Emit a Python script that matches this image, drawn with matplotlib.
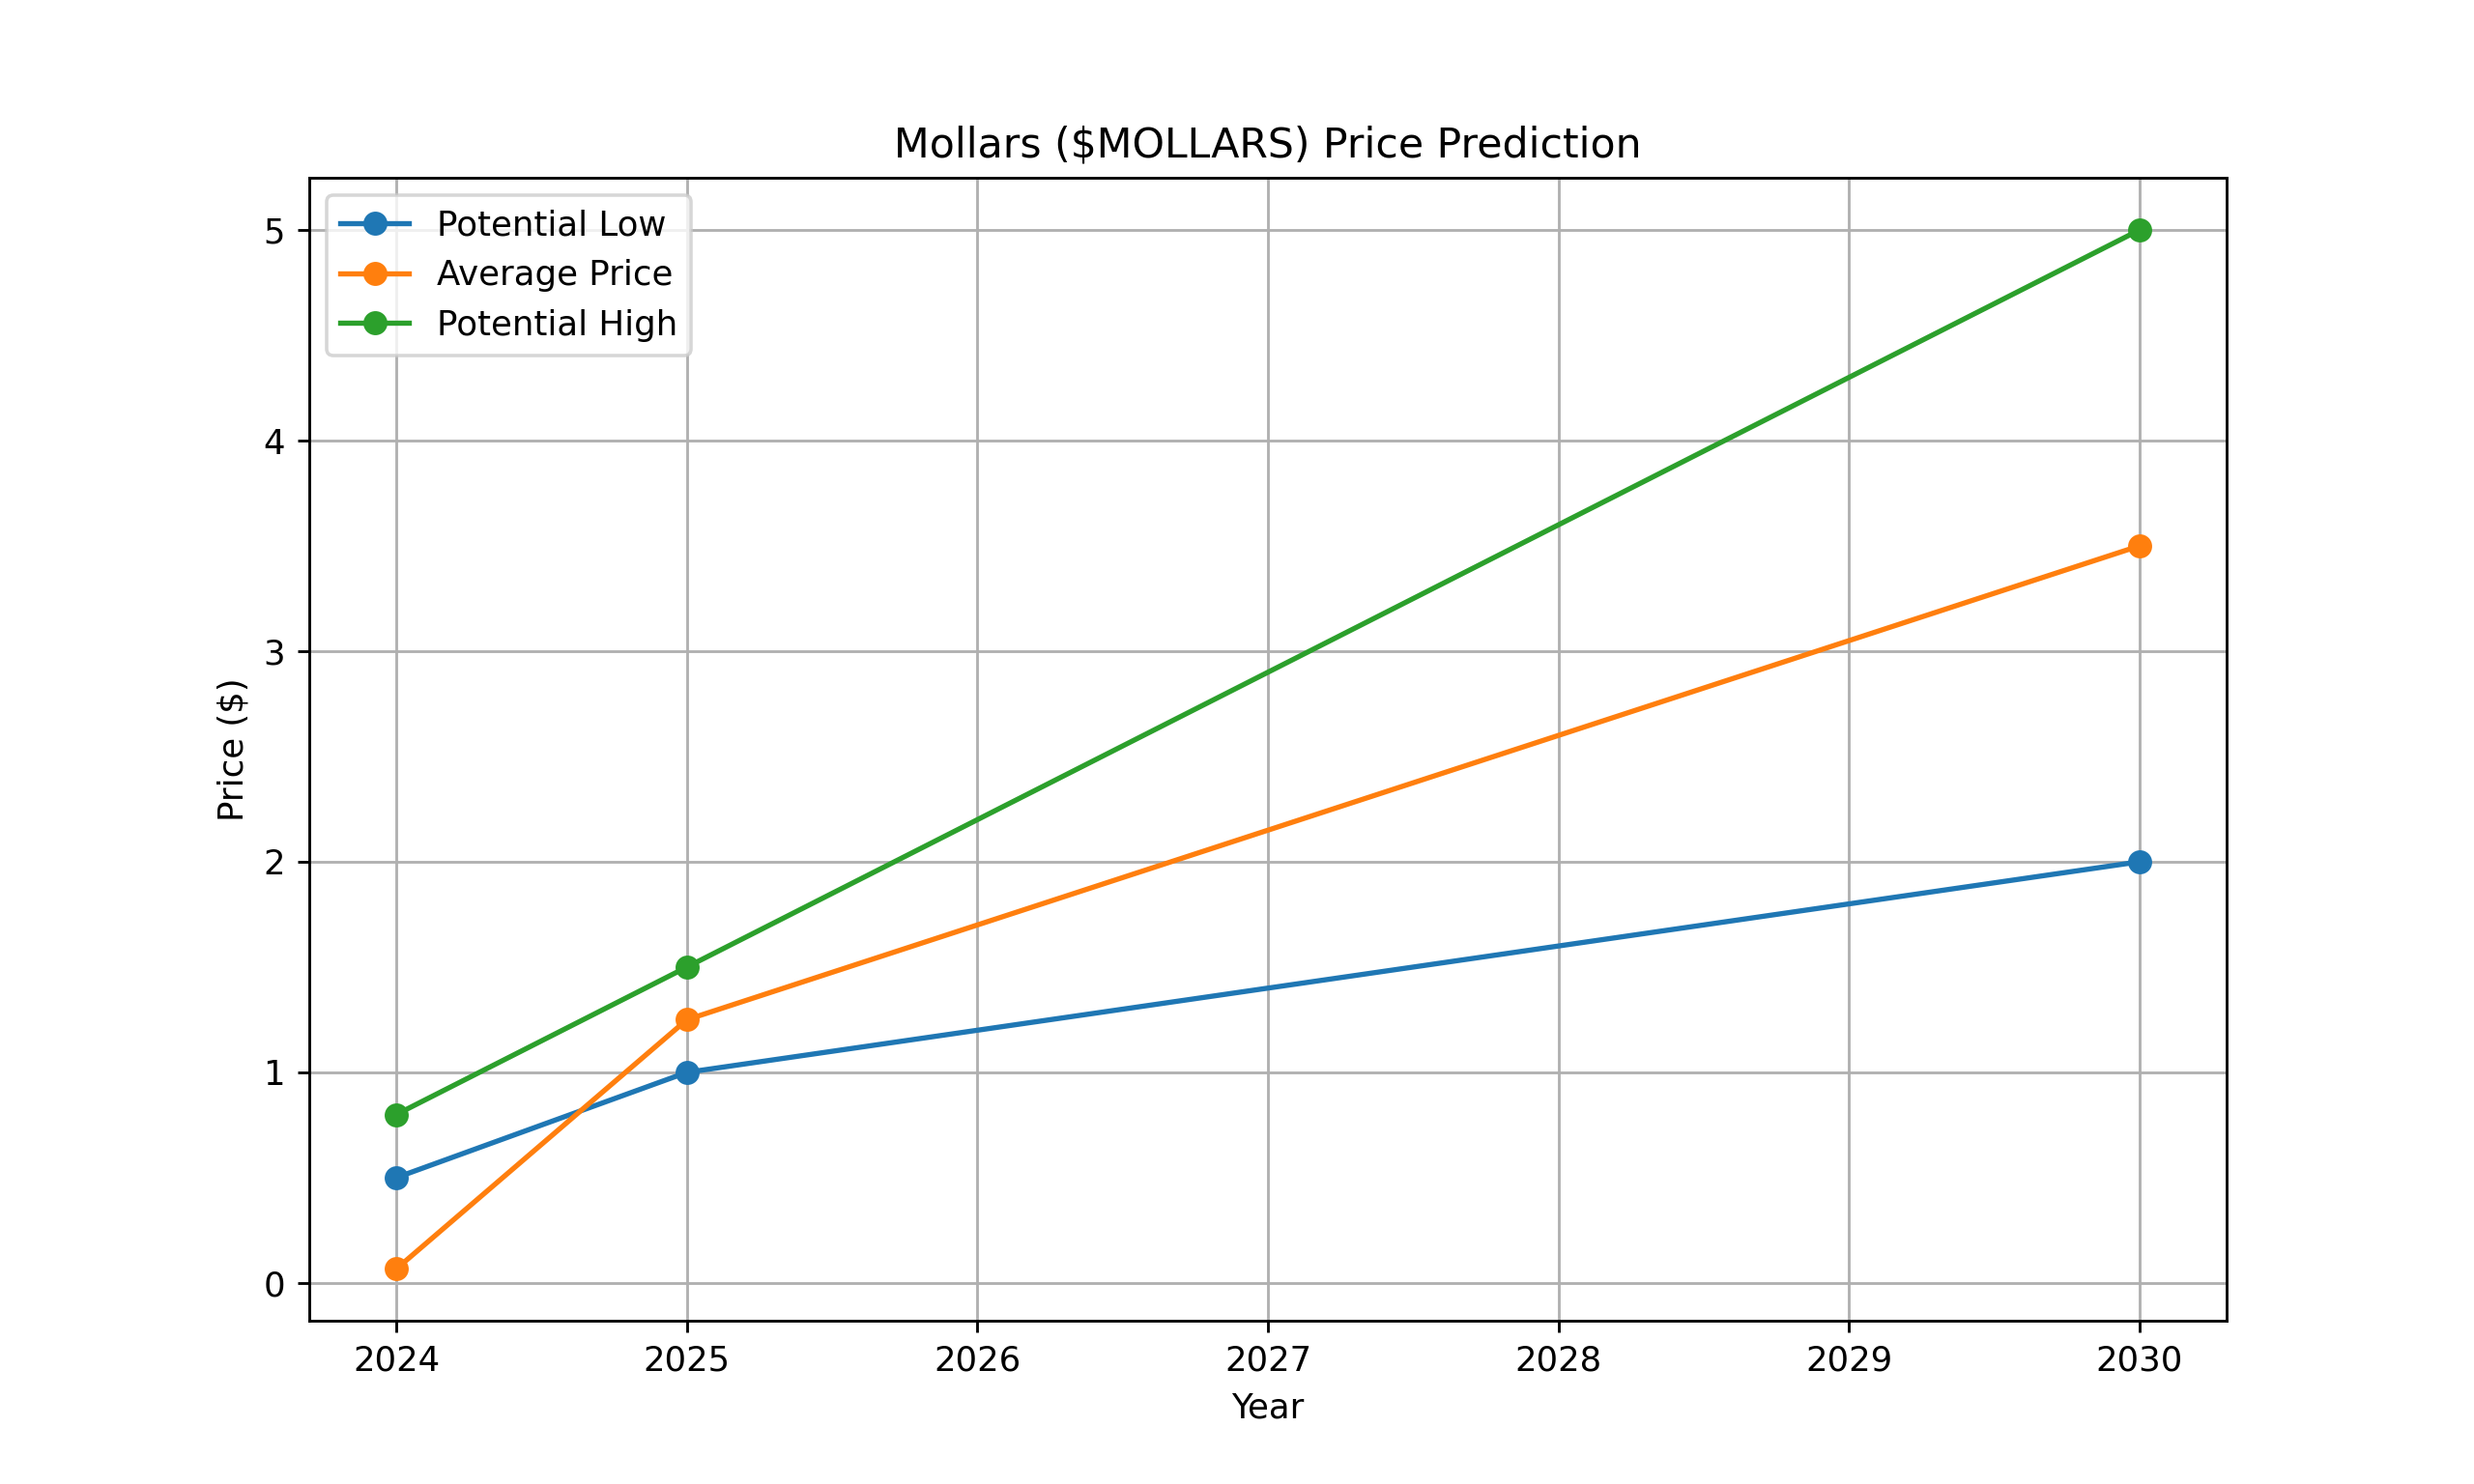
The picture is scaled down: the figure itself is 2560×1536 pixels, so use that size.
import matplotlib.pyplot as plt

# Datos
years = [2024, 2025, 2030]
potential_low = [0.5, 1.0, 2.0]
average_price = [0.067, 1.25, 3.5]
potential_high = [0.8, 1.5, 5.0]

plt.figure(figsize=(10, 6))
plt.plot(years, potential_low, marker='o', label='Potential Low')
plt.plot(years, average_price, marker='o', label='Average Price')
plt.plot(years, potential_high, marker='o', label='Potential High')

plt.title('Mollars ($MOLLARS) Price Prediction')
plt.xlabel('Year')
plt.ylabel('Price ($)')
plt.legend()
plt.grid(True)

plt.savefig('out.png', dpi=256)
